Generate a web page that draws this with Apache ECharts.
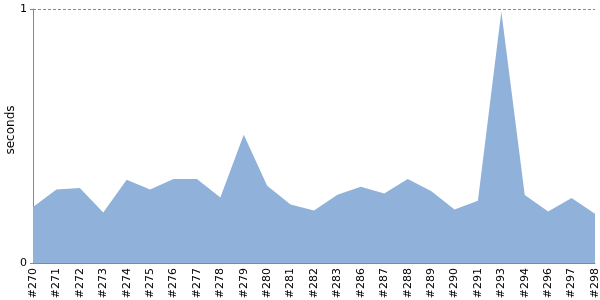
<!DOCTYPE html>
<html><head><meta charset="utf-8">
<script src="https://cdn.jsdelivr.net/npm/echarts@6/dist/echarts.min.js"></script>
<style>html,body{margin:0;padding:0;background:#fff}#c{width:600px;height:300px}</style>
</head><body><div id="c"></div>
<script>
const categories = ['#270','#271','#272','#273','#274','#275','#276','#277','#278','#279','#280','#281','#282','#283','#286','#287','#288','#289','#290','#291','#293','#294','#296','#297','#298'];
const seconds = [0.220,0.289,0.295,0.199,0.328,0.289,0.331,0.331,0.258,0.505,0.304,0.230,0.207,0.269,0.300,0.274,0.331,0.283,0.211,0.245,0.99,0.268,0.203,0.256,0.194];
const yTicks = [0, 1];
const chart = echarts.init(document.getElementById('c'), null, {renderer:'canvas'});
chart.setOption({
  animation:false,
  grid:{left:33,right:5,top:9,bottom:37,containLabel:false,outerBoundsMode:'none'},
  xAxis:{type:'category',data:categories,boundaryGap:false,
    axisLine:{lineStyle:{color:'#888'}},axisTick:{show:false},
    axisLabel:{rotate:90,color:'#000',fontSize:11,fontFamily:'DejaVu Sans',margin:5,interval:0},
    splitLine:{show:false}},
  yAxis:{type:'value',min:yTicks[0],max:yTicks[1],interval:1,name:'seconds',nameLocation:'middle',nameGap:16,nameMoveOverlap:false,
    nameTextStyle:{color:'#000',fontSize:12,fontFamily:'DejaVu Sans',padding:[0,0,0,12]},
    axisLine:{show:true,lineStyle:{color:'#888'}},axisTick:{show:true,length:3,lineStyle:{color:'#888'}},
    axisLabel:{color:'#000',fontSize:11,fontFamily:'DejaVu Sans',margin:6},
    splitLine:{show:true,lineStyle:{color:'#888',type:[3,2],width:1}}},
  series:[{type:'line',data:seconds,symbol:'none',lineStyle:{width:0},
    areaStyle:{color:'#8fb1da',opacity:1},itemStyle:{color:'#8fb1da'}}]
});
</script></body></html>
